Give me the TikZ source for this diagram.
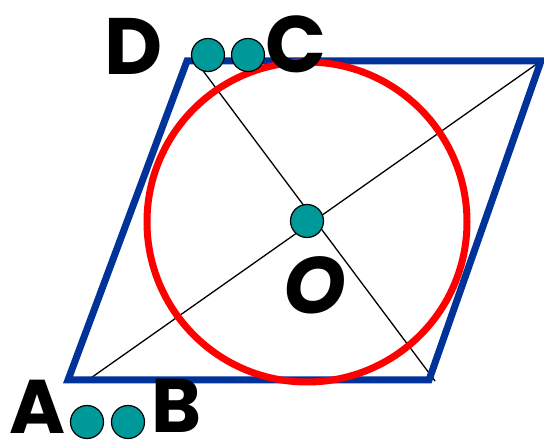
\documentclass[tikz,border=0pt]{standalone}
\usepackage{fontspec}
\setmainfont{Poppins}
\definecolor{pblue}{HTML}{003399}
\definecolor{dotteal}{HTML}{009999}
\begin{document}
\begin{tikzpicture}[x=1pt,y=-1pt,
  edge/.style={pblue,line width=7pt,line join=miter},
  diag/.style={black,line width=1.3pt},
  circ/.style={red,line width=7pt},
  dotnode/.style={circle,fill=dotteal,draw=black,line width=1.2pt,minimum size=33pt,inner sep=0pt},
  lbl/.style={inner sep=0pt,font=\fontsize{80}{80}\selectfont\bfseries},
  lblsmall/.style={lbl,font=\fontsize{76}{76}\selectfont\bfseries}]
\useasboundingbox (0,0) rectangle (544,446);
% corners
\coordinate (A) at (68,380);
\coordinate (B) at (429,380);
\coordinate (C) at (541,61);
\coordinate (D) at (187,61);
\coordinate (ac1) at (88,380);
\coordinate (bd1) at (192,56);
\coordinate (bd2) at (435,381);
% diagonals
\draw[diag] (ac1) -- (C);
\draw[diag] (bd1) -- (bd2);
% parallelogram
\draw[edge] (A) -- (B) -- (C) -- (D) -- cycle;
% circle
\coordinate (O) at (307,222);
\draw[circ] (O) circle[radius=160];
% dots
\node[dotnode] (dO) at (307,221) {};
\node[dotnode] (d1) at (208,55) {};
\node[dotnode] (d2) at (248,55) {};
\node[dotnode] (a1) at (87,422) {};
\node[dotnode] (a2) at (128,422) {};
% labels
\node[lbl] (lD) at (134,46) {D};
\node[lbl] (lC) at (296,44) {C};
\node[lblsmall] (lA) at (38,407) {A};
\node[lblsmall] (lB) at (177,406) {B};
\node[lbl] (lO) at (315,285) {\itshape O};
\end{tikzpicture}
\end{document}
